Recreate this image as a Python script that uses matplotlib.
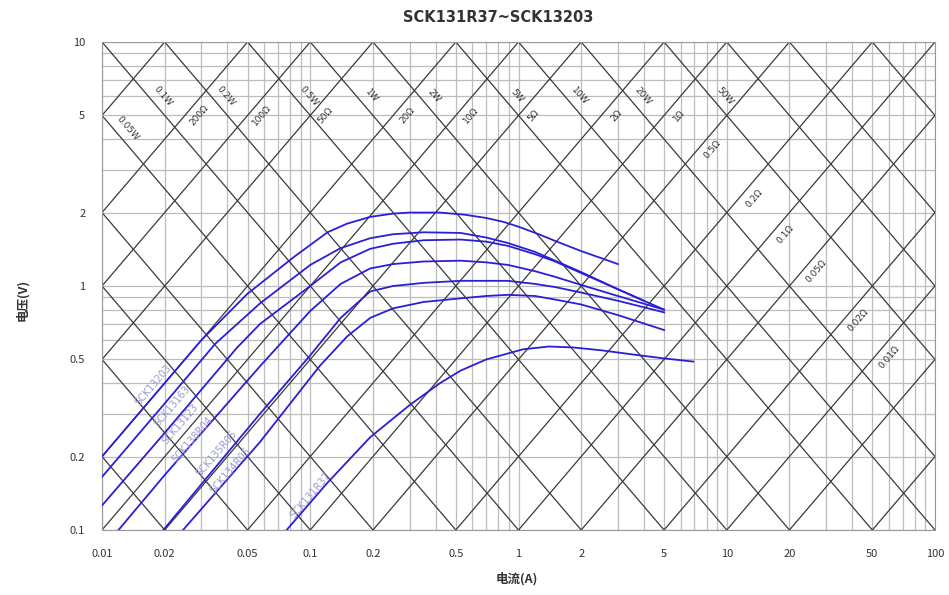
import numpy as np
import matplotlib
matplotlib.use("Agg")
import matplotlib.pyplot as plt
from matplotlib.ticker import LogLocator, NullFormatter

plt.rcParams['font.family'] = ['Noto Sans CJK SC', 'DejaVu Sans']

title = "SCK131R37~SCK13203"
xlabel = "电流(A)"
ylabel = "电压(V)"

x_ticks = [0.01, 0.02, 0.05, 0.1, 0.2, 0.5, 1, 2, 5, 10, 20, 50, 100]
x_tick_labels = ["0.01", "0.02", "0.05", "0.1", "0.2", "0.5", "1", "2", "5", "10", "20", "50", "100"]
y_ticks = [0.1, 0.2, 0.5, 1, 2, 5, 10]
y_tick_labels = ["0.1", "0.2", "0.5", "1", "2", "5", "10"]

# constant power / resistance guide lines
power_lines = [0.001, 0.002, 0.005, 0.01, 0.02, 0.05, 0.1, 0.2, 0.5, 1, 2, 5, 10, 20, 50, 100, 200, 500, 1000]
res_lines = [0.001, 0.002, 0.005, 0.01, 0.02, 0.05, 0.1, 0.2, 0.5, 1, 2, 5, 10, 20, 50, 100, 200, 500, 1000]
power_labels = [0.05, 0.1, 0.2, 0.5, 1, 2, 5, 10, 20, 50]
power_label_text = ["0.05W", "0.1W", "0.2W", "0.5W", "1W", "2W", "5W", "10W", "20W", "50W"]
res_labels = [200, 100, 50, 20, 10, 5, 2, 1, 0.5, 0.2, 0.1, 0.05, 0.02, 0.01]
res_label_text = ["200Ω", "100Ω", "50Ω", "20Ω", "10Ω", "5Ω", "2Ω", "1Ω", "0.5Ω", "0.2Ω", "0.1Ω", "0.05Ω", "0.02Ω", "0.01Ω"]

# V-I curves
names = ["SCK13203", "SCK13163", "SCK13123", "SCK138R04", "SCK135R05", "SCK134R05", "SCK131R37"]
i_c1 = [0.01, 0.02, 0.03, 0.05, 0.083, 0.121, 0.15, 0.194, 0.25, 0.3, 0.42, 0.55, 0.7, 0.85, 1.0, 1.25, 1.5, 2.0, 2.5, 3.0]
v_c1 = [0.20, 0.40, 0.60, 0.93, 1.31, 1.66, 1.80, 1.92, 1.98, 2.0, 2.0, 1.96, 1.90, 1.83, 1.75, 1.63, 1.53, 1.39, 1.30, 1.23]
i_c2 = [0.01, 0.02, 0.035, 0.0575, 0.1, 0.14, 0.194, 0.25, 0.35, 0.527, 0.7, 0.89, 1.2, 1.5, 2.0, 3.0, 4.0]
v_c2 = [0.165, 0.33, 0.58, 0.85, 1.22, 1.43, 1.57, 1.63, 1.66, 1.65, 1.58, 1.50, 1.38, 1.27, 1.14, 0.97, 0.87]
i_c3 = [0.01, 0.02, 0.0446, 0.0575, 0.1, 0.14, 0.194, 0.25, 0.35, 0.527, 0.7, 0.89, 1.2, 1.5, 2.0, 3.0, 5.0]
v_c3 = [0.126, 0.25, 0.56, 0.70, 1.0, 1.25, 1.42, 1.49, 1.54, 1.55, 1.52, 1.46, 1.35, 1.26, 1.13, 0.97, 0.80]
i_c4 = [0.012, 0.02, 0.0575, 0.1, 0.14, 0.194, 0.25, 0.35, 0.527, 0.7, 0.89, 1.2, 1.5, 2.0, 3.0, 5.0]
v_c4 = [0.10, 0.168, 0.47, 0.79, 1.02, 1.18, 1.23, 1.26, 1.27, 1.25, 1.22, 1.15, 1.09, 1.01, 0.91, 0.80]
i_c5 = [0.0197, 0.0575, 0.1, 0.14, 0.194, 0.25, 0.35, 0.527, 0.7, 0.89, 1.2, 1.5, 2.0, 3.0, 5.0]
v_c5 = [0.10, 0.30, 0.52, 0.74, 0.95, 1.0, 1.03, 1.05, 1.05, 1.05, 1.02, 0.99, 0.94, 0.87, 0.78]
i_c6 = [0.0245, 0.0575, 0.111, 0.15, 0.194, 0.25, 0.35, 0.527, 0.7, 0.89, 1.2, 1.5, 2.0, 3.0, 5.0]
v_c6 = [0.10, 0.23, 0.47, 0.62, 0.74, 0.81, 0.86, 0.89, 0.91, 0.92, 0.91, 0.88, 0.84, 0.76, 0.66]
i_c7 = [0.077, 0.12, 0.194, 0.3, 0.42, 0.527, 0.7, 1.05, 1.4, 1.83, 2.5, 3.8, 5.0, 6.9]
v_c7 = [0.10, 0.155, 0.24, 0.325, 0.40, 0.45, 0.50, 0.55, 0.565, 0.56, 0.545, 0.52, 0.505, 0.49]
curves_i = [i_c1, i_c2, i_c3, i_c4, i_c5, i_c6, i_c7]
curves_v = [v_c1, v_c2, v_c3, v_c4, v_c5, v_c6, v_c7]

# layout of the curve name tags (position along each curve and offset factor)
name_at_i = [0.0176, 0.0217, 0.0237, 0.0271, 0.0357, 0.0413, 0.1]
name_off = [1.12, 0.90, 0.92, 1.04, 1.12, 1.05, 1.07]

W, H = 949, 595
fig = plt.figure(figsize=(W / 100, H / 100), dpi=100)
L, R_, T, B = 102, 935, 42, 530
ax = fig.add_axes([L / W, 1 - B / H, (R_ - L) / W, (B - T) / H])
ax.set_xscale('log')
ax.set_yscale('log')
ax.set_xlim(0.01, 100)
ax.set_ylim(0.1, 10)

ang = np.degrees(np.arctan2((B - T) / 2, (R_ - L) / 4))
xx = np.array([0.001, 1000.0])
for p in power_lines:
    ax.plot(xx, p / xx, color='#3a3a3a', lw=0.9, zorder=2)
for r in res_lines:
    ax.plot(xx, r * xx, color='#3a3a3a', lw=0.9, zorder=2)

for p, t in zip(power_labels, power_label_text):
    pp = p * 1.18
    v = min(6.0, pp / 0.0133)
    ax.text(pp / v, v, t, rotation=-ang, ha='center', va='center', fontsize=6.5,
            color='#333333', family='DejaVu Sans', rotation_mode='anchor', zorder=3)
for r, t in zip(res_labels, res_label_text):
    rr = r * 0.85
    v = min(5.0, np.sqrt(31 * rr))
    ax.text(v / rr, v, t, rotation=ang, ha='center', va='center', fontsize=6.5,
            color='#333333', family='DejaVu Sans', rotation_mode='anchor', zorder=3)

for ci, cv, nm, ni, no in zip(curves_i, curves_v, names, name_at_i, name_off):
    ax.plot(ci, cv, color='#2a1fd6', lw=1.3, zorder=4, solid_joinstyle='round')
    vv = 10 ** np.interp(np.log10(ni), np.log10(ci), np.log10(cv))
    ax.text(ni, vv * no, nm, rotation=ang, ha='center', va='center', fontsize=7,
            color='#9a9ad0', family='DejaVu Sans', rotation_mode='anchor', zorder=5)

ax.set_xticks(x_ticks)
ax.set_xticklabels(x_tick_labels)
ax.set_yticks(y_ticks)
ax.set_yticklabels(y_tick_labels)
ax.xaxis.set_minor_locator(LogLocator(base=10, subs=np.arange(2, 10)))
ax.yaxis.set_minor_locator(LogLocator(base=10, subs=np.arange(2, 10)))
ax.xaxis.set_minor_formatter(NullFormatter())
ax.yaxis.set_minor_formatter(NullFormatter())
ax.grid(True, which='both', color='#bdbdbd', lw=0.9)
ax.set_axisbelow(True)
ax.tick_params(which='both', length=0, labelsize=8, colors='#333333')
ax.tick_params(axis='x', pad=14)
ax.tick_params(axis='y', pad=12)
for s in ax.spines.values():
    s.set_color('#999999')
    s.set_linewidth(0.8)

fig.text(498 / W, 1 - 17 / H, title, ha='center', va='center', fontsize=10.5,
         fontweight='bold', color='#333333', family='DejaVu Sans')
fig.text(517 / W, 1 - 579 / H, xlabel, ha='center', va='center', fontsize=9,
         fontweight='bold', color='#333333')
fig.text(22 / W, 1 - 300 / H, ylabel, ha='center', va='center', fontsize=9,
         fontweight='bold', color='#333333', rotation=90)

fig.savefig("out.png", dpi=100)
